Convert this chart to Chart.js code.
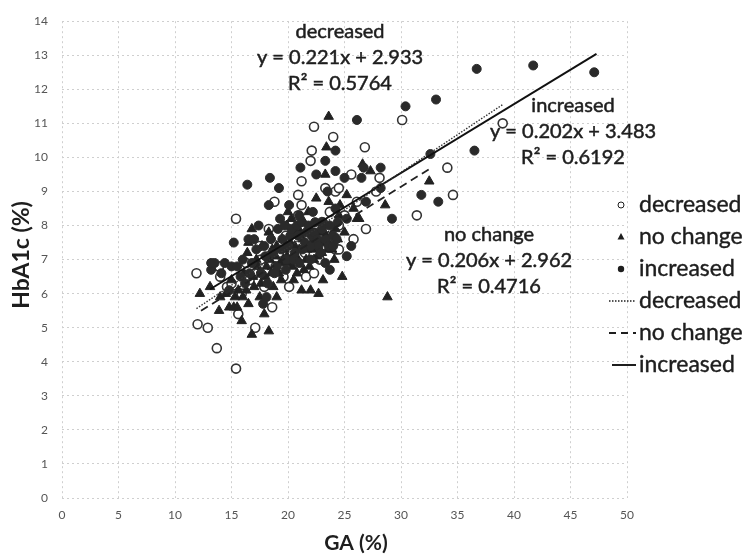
<!DOCTYPE html>
<html>
<head>
<meta charset="utf-8">
<script src="https://cdn.jsdelivr.net/npm/chart.js@4.4.1/dist/chart.umd.min.js"></script>
<style>
  html, body { margin: 0; padding: 0; background: #fff; }
</style>
</head>
<body>
<canvas id="myChart" width="755" height="556"></canvas>
<script>
// GA (%) vs HbA1c (%) points
var decreased = [[11.9,6.6],[12.0,5.1],[12.9,5.0],[13.7,4.4],[15.4,3.8],[13.9,6.8],[14.0,6.5],[14.6,6.2],[15.0,6.3],[15.6,5.4],[15.4,8.2],[15.9,6.0],[16.3,6.9],[16.6,6.4],[17.1,5.0],[17.1,6.6],[17.5,7.4],[17.6,7.0],[17.9,6.2],[18.3,7.9],[18.6,5.6],[18.8,8.7],[18.9,6.8],[19.2,7.2],[19.6,6.5],[19.8,7.7],[20.1,6.2],[20.3,7.0],[20.6,7.9],[20.9,8.3],[20.9,8.9],[21.2,8.6],[21.2,9.3],[21.5,7.2],[21.6,6.5],[21.8,7.6],[22.0,9.9],[22.1,10.2],[22.3,10.9],[22.3,6.6],[22.5,7.9],[22.8,7.0],[23.0,8.1],[23.3,9.1],[23.5,7.5],[23.7,8.4],[24.0,10.6],[24.2,7.3],[24.2,9.0],[24.5,7.3],[24.5,8.0],[24.5,9.1],[25.0,8.3],[25.6,9.5],[25.8,7.6],[26.1,8.7],[26.8,10.3],[26.9,7.9],[27.8,9.0],[28.1,9.4],[30.1,11.1],[31.4,8.3],[34.1,9.7],[34.6,8.9],[39.0,11.0]];
var noChange = [[12.2,6.0],[13.1,6.2],[13.9,5.5],[14.0,5.9],[14.5,6.0],[14.8,5.6],[15.2,5.6],[15.3,5.9],[15.5,5.6],[15.0,6.4],[15.6,6.1],[15.9,5.2],[16.0,5.9],[16.1,6.6],[16.3,6.1],[16.4,7.2],[16.5,5.7],[16.5,7.5],[16.8,4.8],[16.8,7.9],[16.9,6.5],[17.0,6.2],[17.2,7.0],[17.3,6.8],[17.5,5.9],[17.6,6.3],[17.7,7.4],[17.9,5.4],[18.0,6.5],[18.1,6.8],[18.3,4.9],[18.3,7.8],[18.4,7.0],[18.5,6.6],[18.6,7.3],[18.7,6.2],[18.9,7.1],[19.0,5.9],[19.0,7.4],[19.2,6.6],[19.3,6.9],[19.4,6.4],[19.5,7.6],[19.6,7.0],[19.7,7.3],[19.9,7.1],[19.9,8.0],[20.0,6.9],[20.0,8.4],[20.2,7.5],[20.3,8.2],[20.4,6.8],[20.5,6.4],[20.6,7.4],[20.7,7.8],[20.8,6.6],[20.9,7.0],[21.0,7.3],[21.1,7.8],[21.2,6.1],[21.3,7.6],[21.4,6.7],[21.4,8.1],[21.6,7.0],[21.7,7.3],[21.8,8.4],[21.9,6.8],[21.9,7.8],[22.0,6.1],[22.1,7.5],[22.2,7.3],[22.3,7.0],[22.4,7.6],[22.5,8.8],[22.6,7.1],[22.7,6.0],[22.8,7.8],[22.9,7.5],[23.0,7.2],[23.1,6.4],[23.2,7.8],[23.3,9.5],[23.4,7.6],[23.4,10.3],[23.5,7.3],[23.6,8.7],[23.6,11.2],[23.8,7.7],[23.9,7.3],[24.1,7.0],[24.2,7.9],[24.4,7.6],[24.5,8.3],[24.6,8.6],[24.8,6.5],[25.0,7.8],[25.2,8.9],[25.8,8.5],[26.1,8.2],[26.3,8.2],[26.6,9.8],[27.3,9.6],[28.6,8.6],[28.8,5.9],[32.5,9.3]];
var increased = [[13.2,6.7],[13.2,6.9],[13.5,6.9],[14.1,6.6],[14.4,6.9],[14.8,6.1],[15.0,6.8],[15.2,7.5],[15.5,6.8],[15.8,6.5],[16.0,7.0],[16.2,6.3],[16.4,9.2],[16.5,7.6],[16.6,6.6],[16.8,6.9],[17.0,7.6],[17.2,7.3],[17.4,8.0],[17.6,6.6],[17.8,5.7],[17.9,7.4],[18.0,7.1],[18.1,5.9],[18.2,6.3],[18.3,8.6],[18.4,9.4],[18.5,7.6],[18.7,7.2],[18.8,6.6],[19.0,6.8],[19.1,7.9],[19.2,9.1],[19.3,8.2],[19.4,7.3],[19.5,7.6],[19.7,8.0],[19.8,6.7],[19.9,7.0],[20.0,7.4],[20.1,8.6],[20.2,7.7],[20.3,7.9],[20.5,7.0],[20.6,7.2],[20.8,8.0],[20.9,7.7],[21.0,6.9],[21.0,8.3],[21.1,9.7],[21.2,8.1],[21.3,7.3],[21.5,7.5],[21.6,7.8],[21.8,8.0],[22.0,7.0],[22.0,7.4],[22.1,7.7],[22.2,8.4],[22.3,7.8],[22.4,8.1],[22.5,9.5],[22.6,7.6],[22.7,7.4],[22.9,7.2],[23.0,7.9],[23.1,8.1],[23.3,6.9],[23.3,7.6],[23.3,9.9],[23.5,9.0],[23.6,7.4],[23.7,6.7],[23.7,8.0],[24.0,7.4],[24.0,7.7],[24.2,8.5],[24.2,9.6],[24.2,10.2],[24.3,7.6],[24.4,8.1],[25.0,9.4],[25.2,7.1],[25.2,8.2],[25.6,7.4],[26.1,11.1],[26.5,9.4],[26.7,9.7],[26.9,8.7],[28.2,9.1],[28.2,9.7],[29.2,8.2],[30.4,11.5],[31.8,8.9],[32.6,10.1],[33.1,11.7],[33.3,8.7],[36.5,10.2],[36.7,12.6],[41.7,12.7],[47.1,12.5]];

// linear trendlines, as printed on the chart: decreased, no change, increased
var seriesNames = ['decreased', 'no change', 'increased'];
var slopes = [0.221, 0.206, 0.202];
var intercepts = [2.933, 2.962, 3.483];
var rSquared = ['0.5764', '0.4716', '0.6192'];
var lineRanges = [[11.9, 39.0], [12.3, 32.6], [13.1, 47.3]];

var xTicks = [0, 5, 10, 15, 20, 25, 30, 35, 40, 45, 50];
var yTicks = [0, 1, 2, 3, 4, 5, 6, 7, 8, 9, 10, 11, 12, 13, 14];

var FONT = 'Lato, "Open Sans", sans-serif';
var INK = '#1e1e1e';

function toPoints(arr) {
    return arr.map(function (p) { return { x: p[0], y: p[1] }; });
}
function trend(i) {
    return lineRanges[i].map(function (x) {
        return { x: x, y: slopes[i] * x + intercepts[i] };
    });
}
function eqText(i) {
    return 'y = ' + slopes[i].toFixed(3) + 'x + ' + intercepts[i].toFixed(3);
}
// slightly heavier text, like the scanned original
function inkText(c, s, x, y) {
    c.fillText(s, x, y);
    c.strokeText(s, x, y);
}

// equation labels and the legend are drawn by hand (legend overlaps the plot edge)
var extras = {
    id: 'extras',
    afterDraw: function (chart) {
        var c = chart.ctx;
        c.save();
        c.fillStyle = INK;
        c.strokeStyle = INK;
        c.lineWidth = 0.5;
        c.textBaseline = 'middle';
        c.textAlign = 'center';
        c.font = '20px ' + FONT;
        var labelPos = [[340, 32], [489, 235], [573, 106]];
        for (var i = 0; i < 3; i++) {
            var p = labelPos[i];
            inkText(c, seriesNames[i], p[0], p[1]);
            inkText(c, eqText(i), p[0], p[1] + 26);
            inkText(c, 'R\u00B2 = ' + rSquared[i], p[0], p[1] + 52);
        }

        // axis titles
        c.font = 'bold 21px ' + FONT;
        c.fillText('GA (%)', 356, 543);
        c.save();
        c.translate(22, 255);
        c.rotate(-Math.PI / 2);
        c.font = 'bold 23px ' + FONT;
        c.fillText('HbA1c (%)', 0, 0);
        c.restore();

        // legend
        c.font = '23px ' + FONT;
        c.textAlign = 'left';
        var lx = 639, mx = 621, top = 205, step = 32;
        c.lineWidth = 0.4;
        inkText(c, seriesNames[0], lx, top);
        inkText(c, seriesNames[1], lx, top + step);
        inkText(c, seriesNames[2], lx, top + 2 * step);
        // open circle
        c.lineWidth = 1;
        c.beginPath(); c.arc(mx, top, 3, 0, Math.PI * 2); c.stroke();
        // triangle
        c.beginPath();
        c.moveTo(mx, top + step - 4); c.lineTo(mx + 3.5, top + step + 2.5); c.lineTo(mx - 3.5, top + step + 2.5);
        c.closePath(); c.fill();
        // filled circle
        c.beginPath(); c.arc(mx, top + 2 * step, 3.2, 0, Math.PI * 2); c.fill();
        // trendline samples
        var dashes = [[1.5, 1.5], [7, 5], []];
        var widths = [1.3, 1.8, 2];
        var starts = [609, 609, 612];
        for (var k = 0; k < 3; k++) {
            var y = top + (3 + k) * step;
            c.setLineDash(dashes[k]);
            c.lineWidth = widths[k];
            c.beginPath(); c.moveTo(starts[k], y); c.lineTo(636, y); c.stroke();
            c.setLineDash([]);
            c.lineWidth = 0.4;
            inkText(c, seriesNames[k], lx, y);
        }
        c.restore();
    }
};

var ctx = document.getElementById('myChart').getContext('2d');
var chart = new Chart(ctx, {
    type: 'scatter',
    data: {
        datasets: [{
            label: seriesNames[0],
            data: toPoints(decreased),
            pointStyle: 'circle',
            pointRadius: 4.5,
            backgroundColor: '#ffffff',
            borderColor: '#333333',
            borderWidth: 1.6,
            order: 3
        }, {
            label: seriesNames[1],
            data: toPoints(noChange),
            pointStyle: 'triangle',
            pointRadius: 5.5,
            backgroundColor: '#222222',
            borderColor: '#222222',
            borderWidth: 1,
            order: 2
        }, {
            label: seriesNames[2],
            data: toPoints(increased),
            pointStyle: 'circle',
            pointRadius: 4.5,
            backgroundColor: '#2a2a2a',
            borderColor: '#2a2a2a',
            borderWidth: 1,
            order: 1
        }, {
            label: 'decreased trend',
            data: trend(0),
            showLine: true,
            pointRadius: 0,
            borderColor: '#333333',
            borderWidth: 1.4,
            borderDash: [1.5, 1.5],
            order: 0
        }, {
            label: 'no change trend',
            data: trend(1),
            showLine: true,
            pointRadius: 0,
            borderColor: '#222222',
            borderWidth: 1.8,
            borderDash: [8, 5],
            order: 0
        }, {
            label: 'increased trend',
            data: trend(2),
            showLine: true,
            pointRadius: 0,
            borderColor: '#111111',
            borderWidth: 2,
            order: 0
        }]
    },
    options: {
        responsive: false,
        animation: false,
        layout: { padding: { left: 0, right: 128, top: 15, bottom: 0 } },
        plugins: {
            legend: { display: false },
            tooltip: { enabled: false }
        },
        scales: {
            x: {
                type: 'linear',
                min: 0, max: 50,
                afterBuildTicks: function (s) { s.ticks = xTicks.map(function (v) { return { value: v }; }); },
                afterFit: function (s) { s.height = 58; },
                grid: { color: '#cfcfcf', drawTicks: false },
                border: { display: false, dash: [2, 3] },
                ticks: { color: '#555', padding: 10, font: { family: FONT, size: 12 } }
            },
            y: {
                type: 'linear',
                min: 0, max: 14,
                afterBuildTicks: function (s) { s.ticks = yTicks.map(function (v) { return { value: v }; }); },
                afterFit: function (s) { s.width = 62; },
                grid: { color: '#cfcfcf', drawTicks: false },
                border: { display: false, dash: [2, 3] },
                ticks: { color: '#555', padding: 14, font: { family: FONT, size: 12 } }
            }
        }
    },
    plugins: [extras]
});
</script>
</body>
</html>
